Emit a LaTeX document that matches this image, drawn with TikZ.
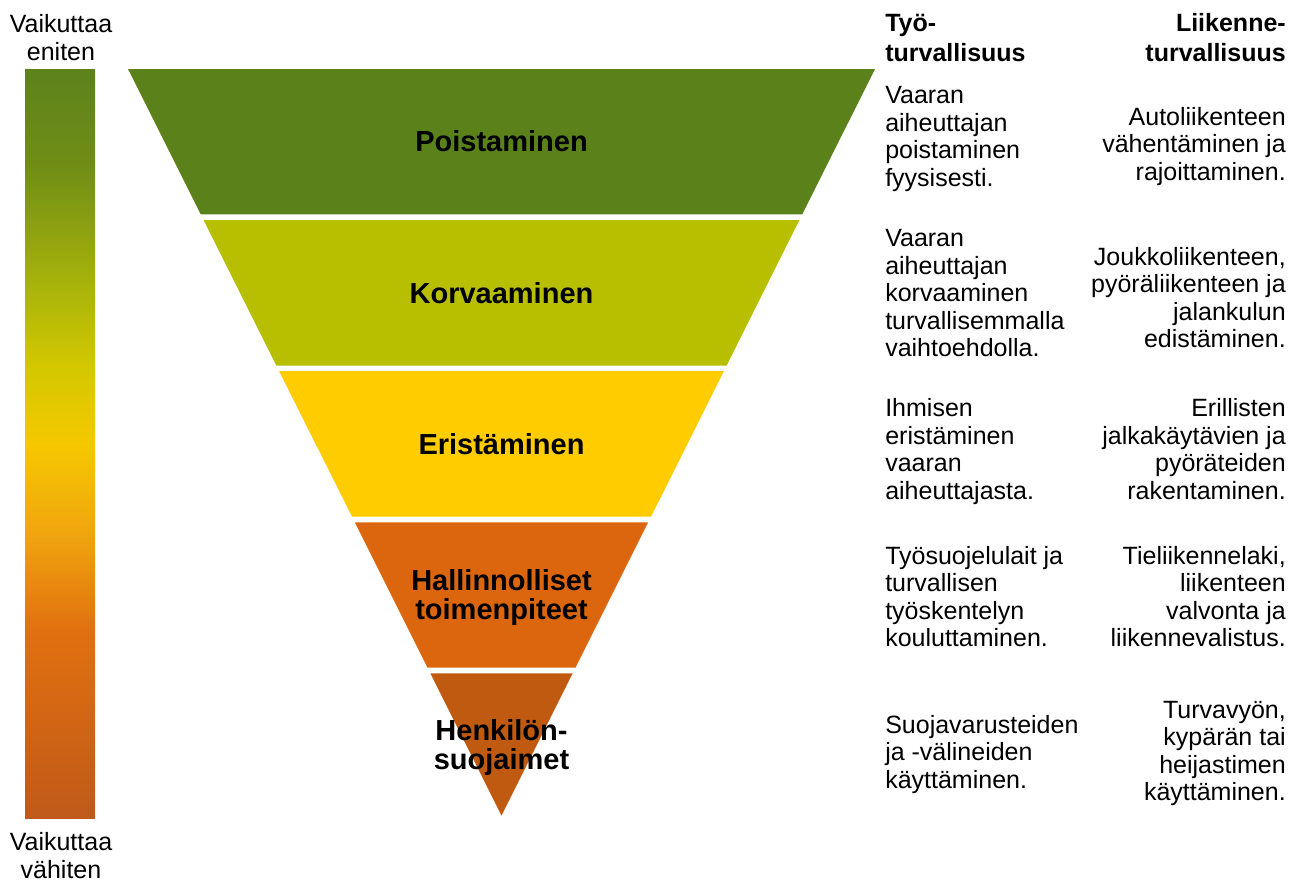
\documentclass[tikz,border=0pt]{standalone}
\usepackage{fontspec}
\setmainfont{Liberation Sans}
\definecolor{bandA}{RGB}{91,130,26}
\definecolor{bandB}{RGB}{183,191,0}
\definecolor{bandC}{RGB}{255,204,0}
\definecolor{bandD}{RGB}{220,102,14}
\definecolor{bandE}{RGB}{192,90,17}
\definecolor{gA}{RGB}{93,130,28}
\definecolor{gB}{RGB}{112,142,22}
\definecolor{gC}{RGB}{172,182,10}
\definecolor{gD}{RGB}{212,200,0}
\definecolor{gE}{RGB}{245,200,0}
\definecolor{gF}{RGB}{240,165,15}
\definecolor{gG}{RGB}{225,112,15}
\definecolor{gH}{RGB}{192,90,26}
\pgfdeclareverticalshading{effbar}{100bp}{color(0bp)=(gH); color(25bp)=(gH); color(37.5bp)=(gG); color(44bp)=(gF); color(50bp)=(gE); color(55bp)=(gD); color(60bp)=(gC); color(68.5bp)=(gB); color(75bp)=(gA); color(100bp)=(gA)}
\begin{document}
\begin{tikzpicture}[x=0.75pt,y=-0.75pt,
  txt/.style={font=\fontsize{18.75}{20.6}\selectfont, inner sep=0pt},
  hdr/.style={font=\fontsize{18.75}{22.3}\selectfont\bfseries, inner sep=0pt},
  lab/.style={font=\fontsize{21.75}{21.4}\selectfont\bfseries, inner sep=0pt, align=center, anchor=base},
  lcol/.style={txt, align=left, anchor=base west},
  rcol/.style={txt, align=right, anchor=base east}]
\useasboundingbox (0,0) rectangle (1301,883);
% gradient bar
\shade[shading=effbar] (25,69) rectangle (95,818);
% inverted pyramid bands
\fill[bandA] (128,69) -- (875,69) -- (802.3,214.3) -- (200.7,214.3) -- cycle;
\fill[bandB] (203.55,220) -- (799.45,220) -- (726.55,365.7) -- (276.45,365.7) -- cycle;
\fill[bandC] (279.1,371) -- (723.9,371) -- (651.0,516.7) -- (352.0,516.7) -- cycle;
\fill[bandD] (354.8,522.3) -- (648.2,522.3) -- (575.45,667.7) -- (427.55,667.7) -- cycle;
\fill[bandE] (430.35,673.3) -- (572.65,673.3) -- (501.5,815.5) -- cycle;
% band labels (anchor = baseline of last line)
\node[lab] (poist) at (501.5,151.7) {Poistaminen};
\node[lab] (korv) at (501.5,303.3) {Korvaaminen};
\node[lab] (erist) at (501.5,454.2) {Eristäminen};
\node[lab] (hall) at (501.5,619.5) {Hallinnolliset\\toimenpiteet};
\node[lab] (henk) at (501.5,769.2) {Henkilön-\\suojaimet};
% bar labels
\node[txt, align=center, anchor=base] (most) at (61,60) {Vaikuttaa\\eniten};
\node[txt, align=center, anchor=base] (least) at (61,878) {Vaikuttaa\\vähiten};
% headers
\node[hdr, align=left, anchor=base west] (hwork) at (885,61.7) {Työ-\\turvallisuus};
\node[hdr, align=right, anchor=base east] (htraf) at (1286,61.7) {Liikenne-\\turvallisuus};
% left column
\node[lcol] (w1) at (885,186.2) {Vaaran\\aiheuttajan\\poistaminen\\fyysisesti.};
\node[lcol] (w2) at (885,356.7) {Vaaran\\aiheuttajan\\korvaaminen\\turvallisemmalla\\vaihtoehdolla.};
\node[lcol] (w3) at (885,499.2) {Ihmisen\\eristäminen\\vaaran\\aiheuttajasta.};
\node[lcol] (w4) at (885,646.8) {Työsuojelulait ja\\turvallisen\\työskentelyn\\kouluttaminen.};
\node[lcol] (w5) at (885,788.3) {Suojavarusteiden\\ja -välineiden\\käyttäminen.};
% right column
\node[rcol] (t1) at (1286,180) {Autoliikenteen\\vähentäminen ja\\rajoittaminen.};
\node[rcol] (t2) at (1286,347.5) {Joukkoliikenteen,\\pyöräliikenteen ja\\jalankulun\\edistäminen.};
\node[rcol] (t3) at (1286,499.2) {Erillisten\\jalkakäytävien ja\\pyöräteiden\\rakentaminen.};
\node[rcol] (t4) at (1286,646.8) {Tieliikennelaki,\\liikenteen\\valvonta ja\\liikennevalistus.};
\node[rcol] (t5) at (1286,800.8) {Turvavyön,\\kypärän tai\\heijastimen\\käyttäminen.};
\end{tikzpicture}
\end{document}
